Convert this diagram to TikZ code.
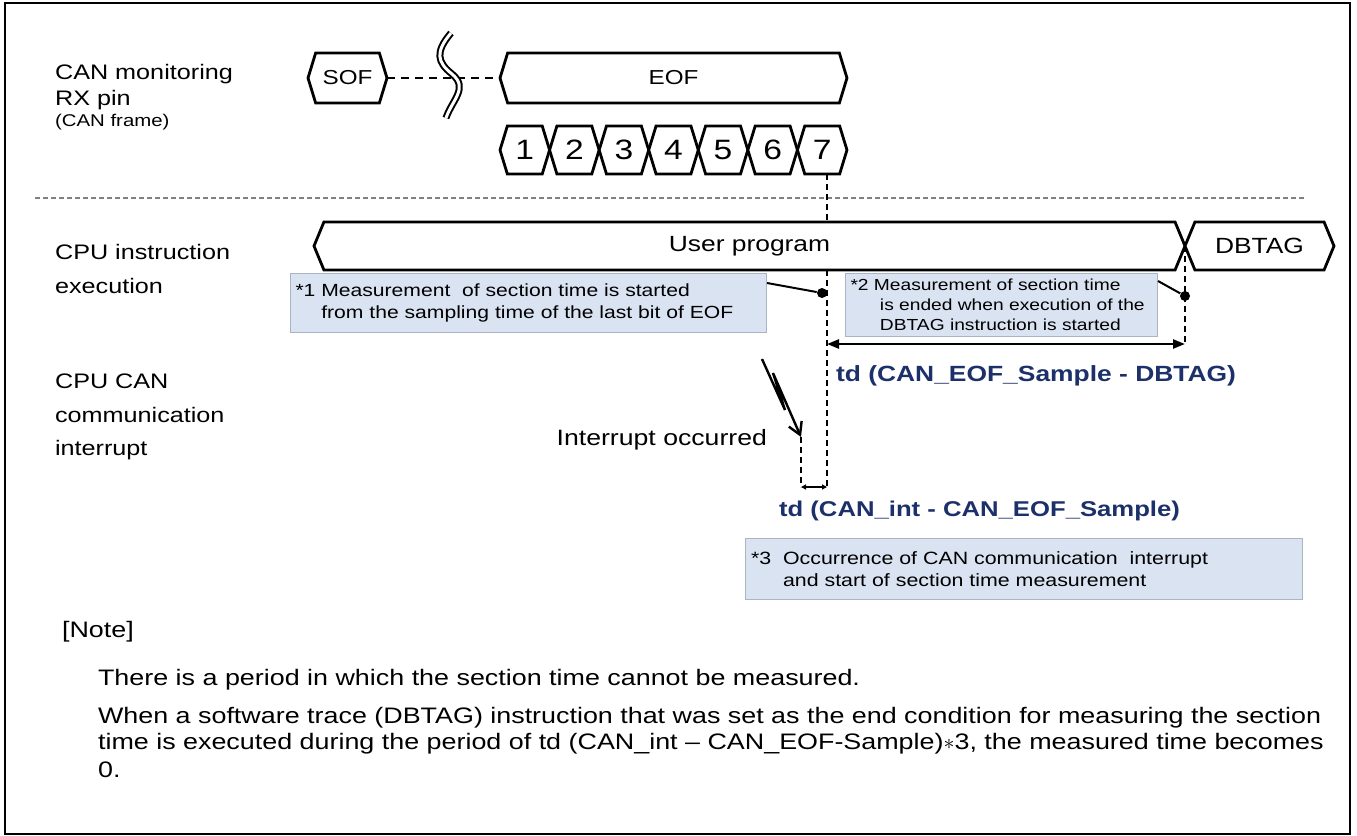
\documentclass[tikz,border=0pt]{standalone}
\usepackage{fontspec}
\setmainfont{Liberation Sans}[FakeStretch=1.2]
\usetikzlibrary{shapes.symbols, arrows.meta, positioning}
\definecolor{notefill}{RGB}{218,227,242}
\definecolor{noteline}{RGB}{170,180,195}
\definecolor{tdblue}{RGB}{28,48,105}
\tikzset{
    lanelabel/.style={anchor=west, align=left, font=\fontsize{10.5}{16.8}\selectfont},
    wave/.style={signal, signal to=west and east, draw=black, fill=white, line width=1.4pt, inner sep=0pt, outer sep=0pt, minimum height=24pt},
    bit/.style={wave, signal pointer angle=146, minimum width=24.78pt, font=\fontsize{14}{14}\selectfont},
    notebox/.style={rectangle, draw=noteline, line width=0.5pt, fill=notefill, anchor=north west, align=left, inner xsep=2.5pt, inner ysep=0pt, font=\fontsize{8.8}{10.8}\selectfont},
    tdlabel/.style={anchor=west, text=tdblue, font=\bfseries\fontsize{11}{11}\selectfont},
    marker/.style={line width=1pt, dash pattern=on 3pt off 2pt},
    gapline/.style={line width=1pt, dash pattern=on 4pt off 3pt},
    sepline/.style={gray, line width=0.6pt, dash pattern=on 2.5pt off 1.5pt},
    dim/.style={line width=1.2pt, {Triangle[length=6pt,width=4.5pt]}-{Triangle[length=6pt,width=4.5pt]}},
    smalldim/.style={line width=0.8pt, {Triangle[length=2.5pt,width=2.5pt]}-{Triangle[length=2.5pt,width=2.5pt]}},
    leader/.style={line width=1pt},
    tapdot/.style={circle, fill=black, inner sep=0pt, minimum size=5pt},
    notetext/.style={anchor=west, font=\fontsize{11.2}{13}\selectfont}
}
\begin{document}
\begin{tikzpicture}[x=0.5pt, y=-0.5pt]
    \useasboundingbox (0,0) rectangle (1357,836);
    \draw[line width=1.2pt] (5,3) rectangle (1350,834);
    % Lane labels
    \node (lblcan) [lanelabel, font=\fontsize{10.5}{13}\selectfont] at (48,87) {CAN monitoring\\RX pin};
    \node (lblframe) [lanelabel, font=\fontsize{8.5}{10}\selectfont] at (48,122) {(CAN frame)};
    \node (lblcpu) [lanelabel] at (48,269) {CPU instruction\\execution};
    \node (lblint) [lanelabel] at (48,417) {CPU CAN\\communication\\interrupt};
    \draw[sepline] (35,198) -- (1305,198);
    % CAN frame
    \node (sof) [wave, signal pointer angle=146, minimum height=25pt, minimum width=39.5pt, font=\fontsize{10.1}{10.1}\selectfont] at (347.5,78) {SOF};
    \node (eof) [wave, signal pointer angle=146, minimum height=25pt, minimum width=173.5pt, font=\fontsize{10.1}{10.1}\selectfont] at (673.5,78) {EOF};
    \foreach \i in {1,...,7}
        \node (bit\i) [bit] at ({500+49.57*(\i-0.5)},150) {\i};
    \coordinate (brk) at (452,78);
    \draw[gapline] (sof.east) -- (eof.west);
    \draw[line width=1pt, double, double distance=1.5pt] (451,33) .. controls (435,52) and (437,62) .. (452,74) .. controls (469,88) and (452,100) .. (446,118);
    % CPU instruction execution
    \node (user) [wave, signal pointer angle=135, minimum width=435.5pt, font=\fontsize{11}{11}\selectfont] at (749.5,246) {User program};
    \node (dbtag) [wave, signal pointer angle=135, minimum width=74.5pt, font=\fontsize{11}{11}\selectfont] at (1259.5,246) {DBTAG};
    \coordinate (tsample) at (827,487);
    \coordinate (tend) at (1185,344);
    \draw[marker] (bit7.south -| tsample) -- (user.north -| tsample);
    \draw[marker] (user.south -| tsample) -- (tsample);
    \draw[marker] (user.east) -- (tend);
    \draw[dim] (tsample |- tend) -- (tend);
    \node (tdeof) [tdlabel] at (829,376) {td (CAN\_EOF\_Sample - DBTAG)};
    % Notes 1 and 2
    \node (note1) [notebox, minimum width=238pt, minimum height=29.5pt, text width=233pt] at (290,273) {*1 Measurement\ \ of section time is started\\\phantom{*1 }from the sampling time of the last bit of EOF};
    \node (dot1) [tapdot] at (822,293) {};
    \draw[leader] ([yshift=-5pt]note1.north east) -- (dot1);
    \node (note2) [notebox, minimum width=156pt, minimum height=31.5pt, text width=151pt, font=\fontsize{8}{10}\selectfont] at (845,273) {*2 Measurement of section time\\\phantom{*2 }\hspace*{3pt}is ended when execution of the\\\phantom{*2 }\hspace*{3pt}DBTAG instruction is started};
    \node (dot2) [tapdot] at (1185,296) {};
    \draw[leader] ([yshift=-4pt]note2.north east) -- (dot2);
    % CAN interrupt
    \coordinate (bolta) at (762,359);
    \coordinate (boltb) at (785,410);
    \coordinate (boltc) at (773,373);
    \coordinate (cint) at (801,437);
    \draw[line width=1.2pt, -{Straight Barb[length=6pt,width=7pt]}] (bolta) -- (boltb) -- (boltc) -- (cint);
    \node (intlabel) [left=13.5pt of cint, yshift=-1.5pt, font=\fontsize{11.1}{11.1}\selectfont] {Interrupt occurred};
    \draw[marker] (cint) -- (cint |- tsample);
    \draw[smalldim] (cint |- tsample) -- (tsample);
    \node (tdint) [tdlabel, font=\bfseries\fontsize{10.7}{10.7}\selectfont] at (772,511) {td (CAN\_int - CAN\_EOF\_Sample)};
    \node (note3) [notebox, minimum width=278.5pt, minimum height=30.5pt, text width=273pt, font=\fontsize{8.9}{11}\selectfont] at (745,538) {*3\ \ Occurrence of CAN communication\ \ interrupt\\\phantom{*3\ \ }and start of section time measurement};
    % Note text
    \node (notehead) [notetext] at (55,632) {[Note]};
    \node (noteline1) [notetext] at (91,680) {There is a period in which the section time cannot be measured.};
    \node (noteline2) [notetext] at (91,718) {When a software trace (DBTAG) instruction that was set as the end condition for measuring the section};
    \node (noteline3) [notetext] at (91,744) {time is executed during the period of td (CAN\_int -- CAN\_EOF-Sample)$\ast$3, the measured time becomes};
    \node (noteline4) [notetext] at (91,770) {0.};
\end{tikzpicture}
\end{document}
